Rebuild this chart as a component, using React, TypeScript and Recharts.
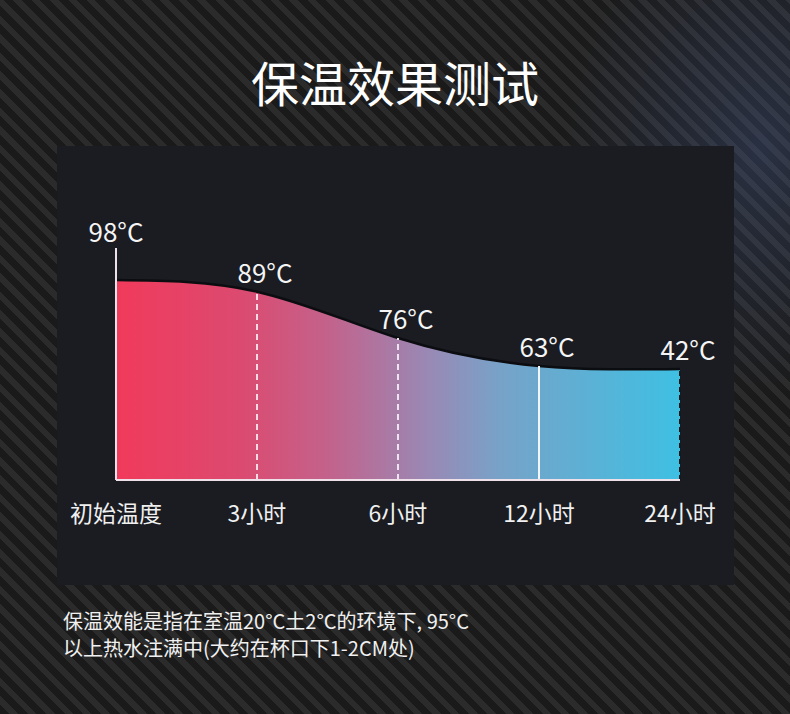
import React from 'react';
import { AreaChart, Area, XAxis, YAxis, ReferenceLine } from 'recharts';

const categories = ['初始温度', '3小时', '6小时', '12小时', '24小时'];
const temps = [98, 89, 76, 63, 42];
// visual height of the curve at each category (decorative scale 0–110)
const curveLevels = [94.8, 89.3, 67.3, 54.1, 52.6];
const yMax = 110;

const data = categories.map((c, i) => ({ name: c, level: curveLevels[i], temp: temps[i] }));

const guideStyles = [
  null,
  { stroke: '#f6dbe7', dash: '6 4' },
  { stroke: '#eee4f0', dash: '6 4' },
  { stroke: '#f2f6fa', dash: undefined },
  { stroke: '#16181e', dash: '5 3' },
];

const FONT = '"Noto Sans CJK SC", "Noto Sans", sans-serif';

const renderLabel = (props: any) => {
  const { x, y, index } = props;
  if (index === 0) return null;
  return (
    <text x={x + 8} y={y - 9} textAnchor="middle" fill="#f5f5f5" fontSize={26} fontFamily={FONT}>
      {temps[index]}°C
    </text>
  );
};

export default function App() {
  return (
    <div
      style={{
        position: 'absolute',
        left: 0,
        top: 0,
        width: 790,
        height: 714,
        overflow: 'hidden',
        background: 'repeating-linear-gradient(45deg, #1a1a1a 0px, #1a1a1a 7px, #2b2b2b 7px, #2b2b2b 13px)',
        fontFamily: FONT,
      }}
    >
      <div
        style={{
          position: 'absolute',
          left: 560,
          top: -100,
          width: 400,
          height: 500,
          background: 'radial-gradient(ellipse at center, rgba(70,90,140,0.35) 0%, rgba(70,90,140,0) 70%)',
        }}
      />
      <div
        style={{
          position: 'absolute',
          left: 0,
          top: 57,
          width: 790,
          textAlign: 'center',
          color: '#ffffff',
          fontSize: 48,
          lineHeight: '48px',
        }}
      >
        保温效果测试
      </div>
      <div
        style={{
          position: 'absolute',
          left: 57,
          top: 146,
          width: 677,
          height: 439,
          background: '#1a1c22',
        }}
      />
      <div style={{ position: 'absolute', left: 57, top: 146 }}>
        <AreaChart width={677} height={439} data={data} margin={{ top: 102, right: 54, bottom: 75, left: 59 }}>
          <defs>
            <linearGradient id="heat" x1="0" y1="0" x2="1" y2="0">
              <stop offset="0%" stopColor="#f13a5b" />
              <stop offset="22%" stopColor="#dc4a70" />
              <stop offset="38%" stopColor="#c2638c" />
              <stop offset="55%" stopColor="#9a88b4" />
              <stop offset="68%" stopColor="#78a2c8" />
              <stop offset="100%" stopColor="#3ec0e3" />
            </linearGradient>
          </defs>
          <XAxis
            dataKey="name"
            axisLine={{ stroke: '#eee0e8', strokeWidth: 2 }}
            tickLine={false}
            tickMargin={20}
            height={30}
            interval={0}
            tick={{ fill: '#f0f0f0', fontSize: 23, fontFamily: FONT }}
          />
          <YAxis hide domain={[0, yMax]} type="number" />
          <Area
            type="natural"
            dataKey="level"
            stroke="#0c0d10"
            strokeWidth={2.5}
            fill="url(#heat)"
            fillOpacity={1}
            isAnimationActive={false}
            label={renderLabel}
          />
          <ReferenceLine
            segment={[
              { x: categories[0], y: 0 },
              { x: categories[0], y: yMax },
            ]}
            stroke="#eee0e8"
            strokeWidth={2}
            label={{ value: `${temps[0]}°C`, position: 'top', fill: '#f5f5f5', fontSize: 26, fontFamily: FONT, offset: 6 }}
          />
          {categories.map((c, i) =>
            guideStyles[i] ? (
              <ReferenceLine
                key={c}
                segment={[
                  { x: c, y: 0 },
                  { x: c, y: curveLevels[i] },
                ]}
                stroke={guideStyles[i]!.stroke}
                strokeDasharray={guideStyles[i]!.dash}
                strokeWidth={2}
              />
            ) : null
          )}
        </AreaChart>
      </div>
      <div
        style={{
          position: 'absolute',
          left: 63,
          top: 607,
          color: '#f0f0f0',
          fontSize: 20,
          lineHeight: '27px',
          whiteSpace: 'nowrap',
        }}
      >
        保温效能是指在室温20°C土2°C的环境下, 95°C
        <br />
        以上热水注满中(大约在杯口下1-2CM处)
      </div>
    </div>
  );
}
